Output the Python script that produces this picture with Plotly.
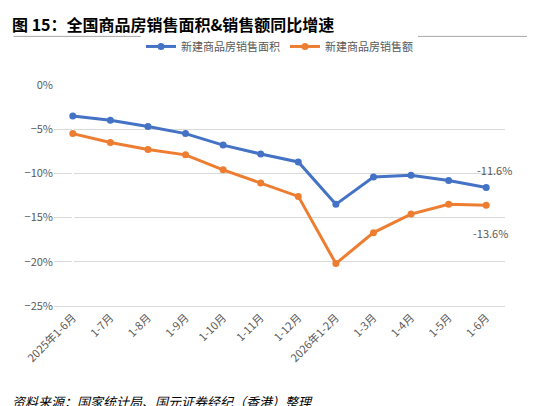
import plotly.graph_objects as go

months = ["2025年1-6月", "1-7月", "1-8月", "1-9月", "1-10月", "1-11月", "1-12月",
          "2026年1-2月", "1-3月", "1-4月", "1-5月", "1-6月"]
area_growth = [-3.5, -4.0, -4.7, -5.5, -6.8, -7.8, -8.7, -13.5, -10.4, -10.2, -10.8, -11.6]
sales_growth = [-5.5, -6.5, -7.3, -7.9, -9.6, -11.1, -12.6, -20.2, -16.7, -14.6, -13.5, -13.6]
xs = list(range(len(months)))

fig = go.Figure()
fig.add_trace(go.Scatter(x=xs, y=area_growth, name="新建商品房销售面积",
                         mode="lines+markers", line=dict(color="#4472C4", width=3),
                         marker=dict(size=7)))
fig.add_trace(go.Scatter(x=xs, y=sales_growth, name="新建商品房销售额",
                         mode="lines+markers", line=dict(color="#ED7D31", width=3),
                         marker=dict(size=7)))

fig.add_annotation(x=xs[-1], y=area_growth[-1], text=f"{area_growth[-1]}%", showarrow=False,
                   xshift=8, yshift=18, font=dict(size=11, color="#595959"))
fig.add_annotation(x=xs[-1], y=sales_growth[-1], text=f"{sales_growth[-1]}%", showarrow=False,
                   xshift=4, yshift=-28, font=dict(size=11, color="#595959"))

fig.add_annotation(x=0, y=1, xref="paper", yref="paper", xanchor="left", yanchor="top",
                   xshift=-44, yshift=75, showarrow=False,
                   text="<b>图 15：全国商品房销售面积&销售额同比增速</b>",
                   font=dict(size=16, color="black"))
fig.add_shape(type="line", xref="paper", yref="paper", x0=-0.09, x1=1.08, y0=1.22, y1=1.22,
              line=dict(color="#A6A6A6", width=1))
fig.add_annotation(x=0, y=0, xref="paper", yref="paper", xanchor="left", yanchor="top",
                   xshift=-44, yshift=-84, showarrow=False,
                   text="<i>资料来源：国家统计局、国元证券经纪（香港）整理</i>",
                   font=dict(size=13, color="black"))

fig.update_layout(
    width=535, height=406, paper_bgcolor="white", plot_bgcolor="white",
    margin=dict(l=46, r=38, t=77, b=108),
    font=dict(family="Noto Sans CJK SC", size=11, color="#595959"),
    legend=dict(orientation="h", x=0.5, xanchor="center", y=1.24, yanchor="top",
                font=dict(size=11, color="#595959")),
    showlegend=True,
)
fig.update_xaxes(tickvals=xs, ticktext=months, tickangle=-45, range=[-0.5, 11.5],
                 showline=True, linecolor="#D9D9D9", showgrid=False, automargin=False)
fig.update_yaxes(range=[-25, 0], dtick=5, ticksuffix="%", showgrid=True,
                 gridcolor="#D9D9D9", zeroline=False, automargin=False)

fig.write_html("out.html")
